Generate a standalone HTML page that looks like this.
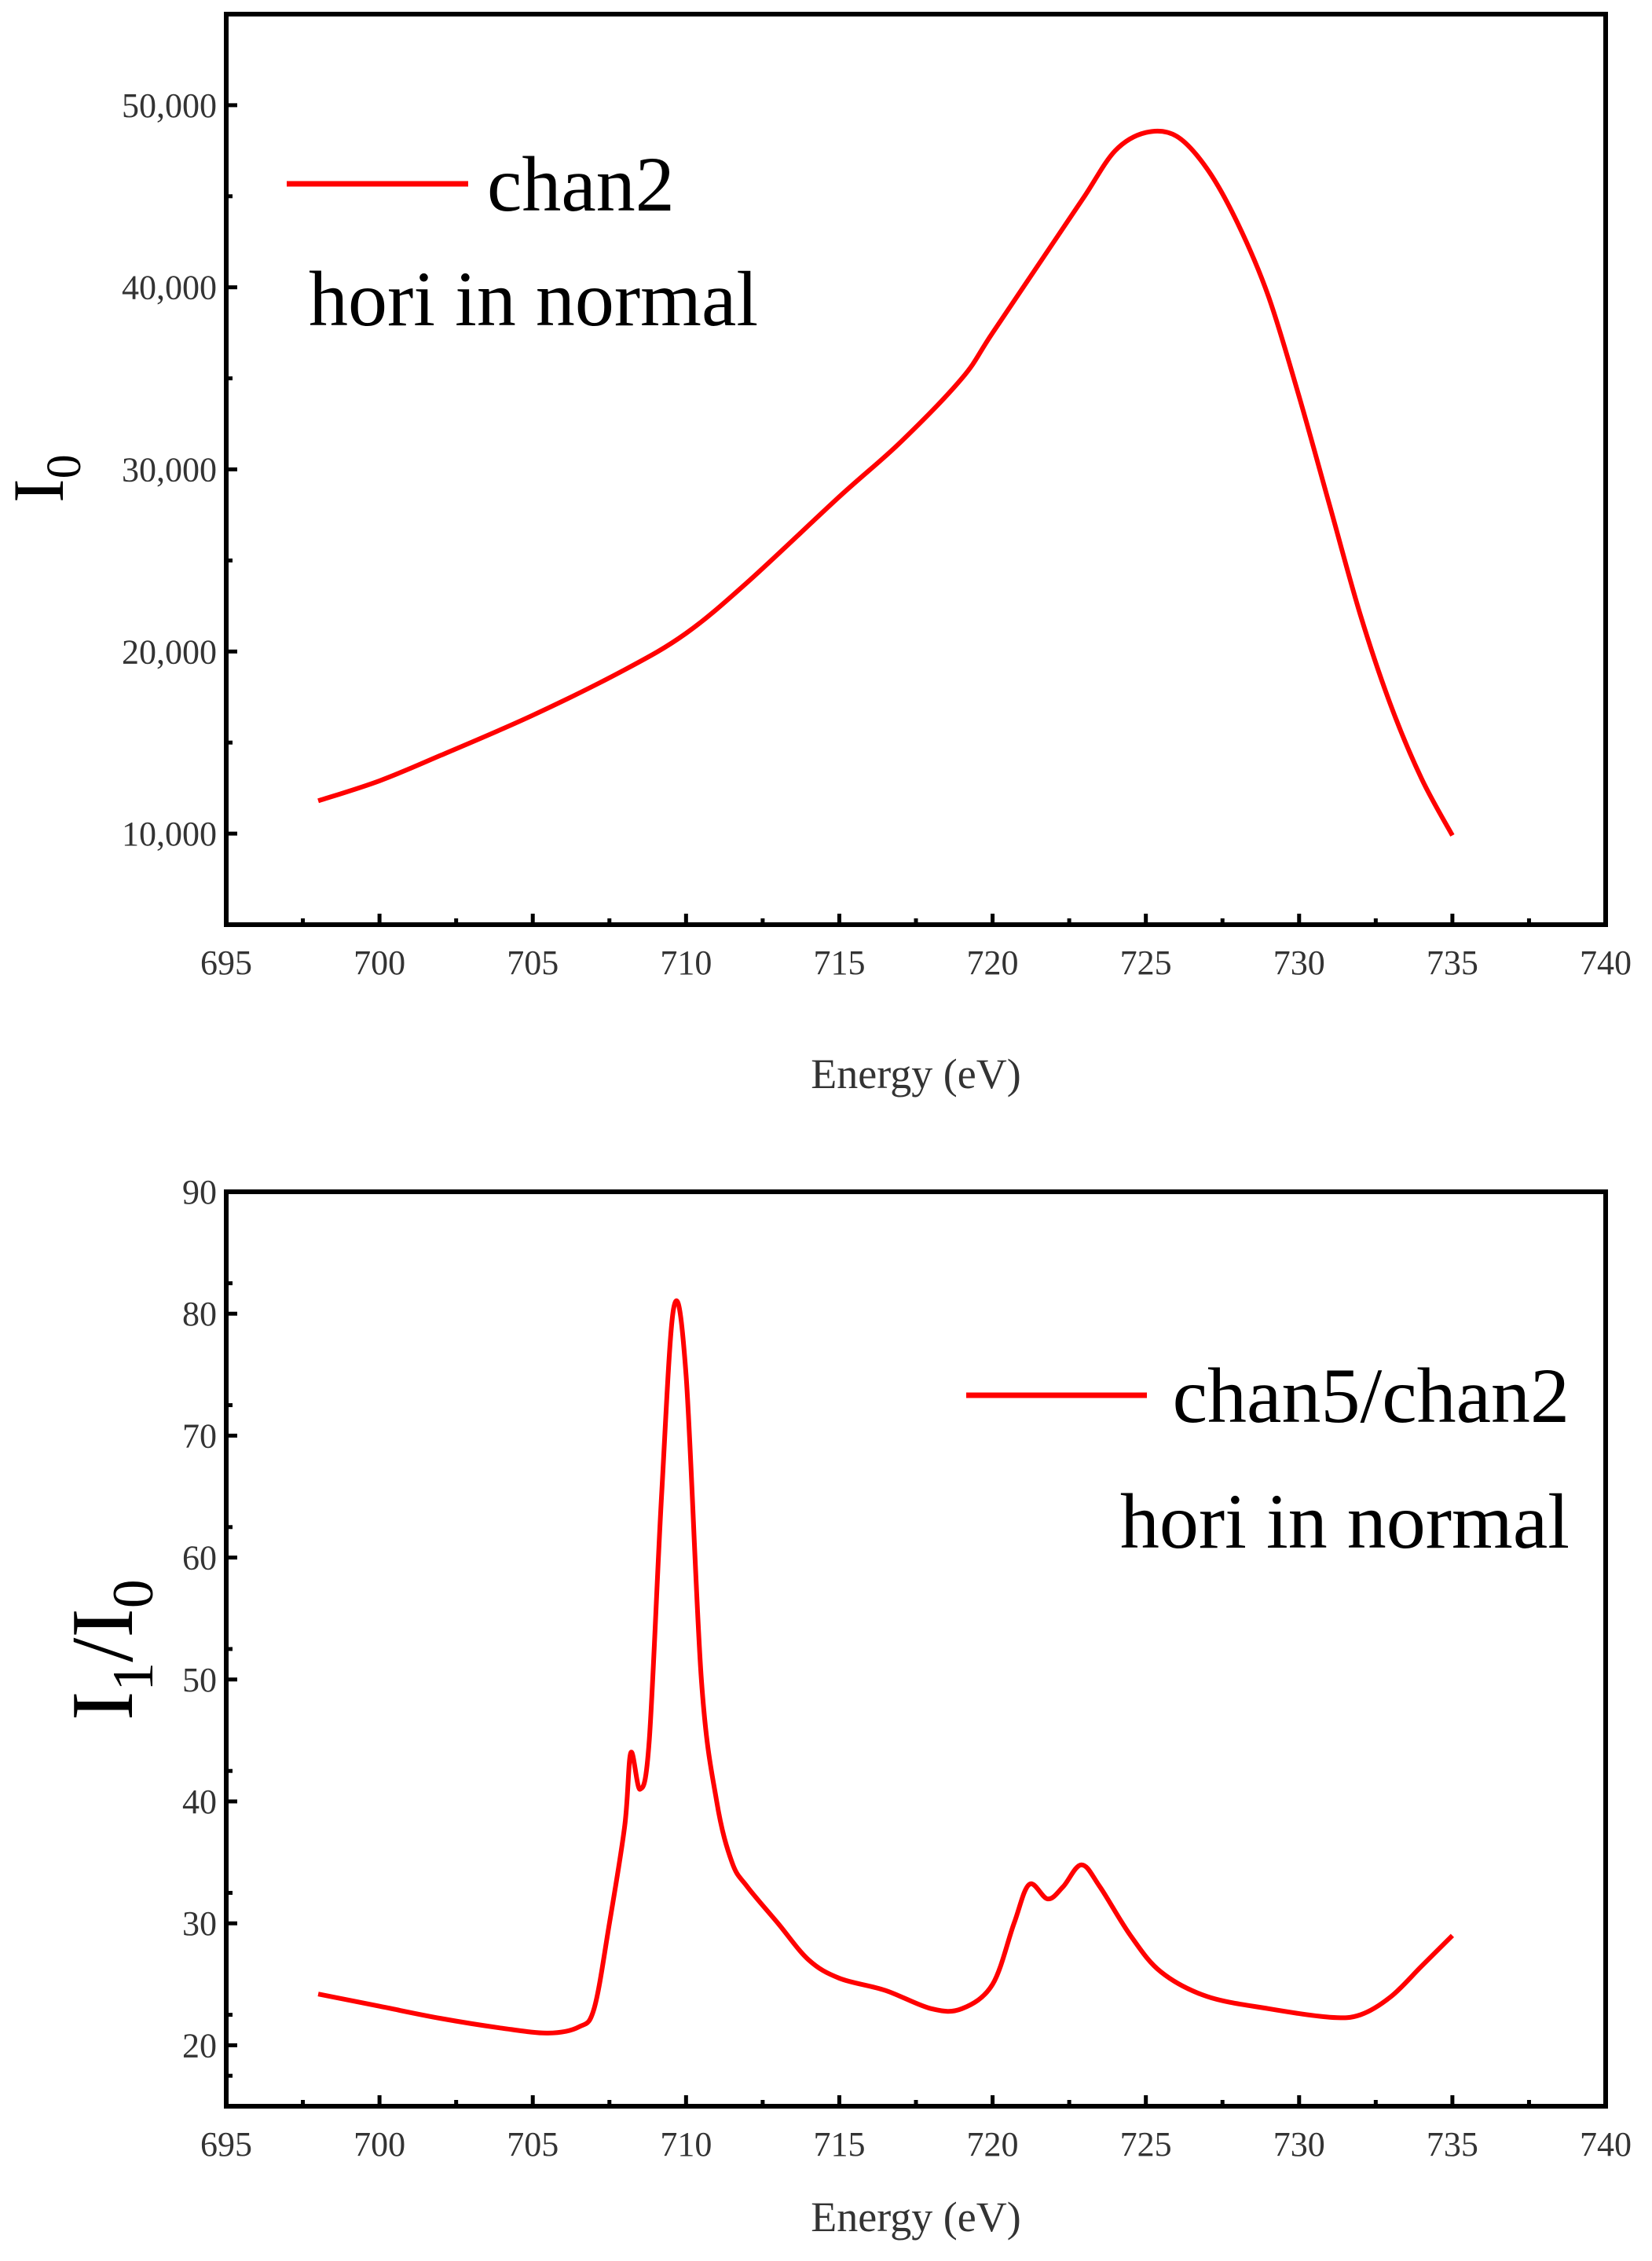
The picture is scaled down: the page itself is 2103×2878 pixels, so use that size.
<!DOCTYPE html>
<html><head><meta charset="utf-8"><style>
html,body{margin:0;padding:0;background:#fff;}
svg{display:block;font-family:"Liberation Serif",serif;}
</style></head><body>
<svg id="fig" width="2103" height="2878" viewBox="0 0 2103 2878"></svg>
<script>
const xTicks = [695,700,705,710,715,720,725,730,735,740];
const topX = [698,700,702,705,708,710,712,715,717,719,720,722,723,724,725,726,727,728,729,730,731,732,733,734,735];
const topY = [11800,12900,14300,16500,19000,21000,23800,28500,31500,35000,37500,42500,45000,47500,48500,48300,46500,43500,39500,34000,28000,22000,17000,13000,9900];
const topYTicks = [10000,20000,30000,40000,50000];
const topYTickLabels = ["10,000","20,000","30,000","40,000","50,000"];
const botX = [698,700,702,704,705.5,706.5,707,707.5,708,708.2,708.5,708.8,709.2,709.6,710,710.5,711,711.5,712,713,714,715,716.5,718,719,720,720.7,721.2,721.8,722.3,722.9,723.5,724.5,725.5,727,729,731,732,733,734,735];
const botY = [24.2,23.2,22.2,21.4,21,21.5,23,30,38,44,41,45,65,80.5,75,50,40,35,33,30,27,25.5,24.5,23,23,25,30,33.2,32,33,34.8,33,29,26,24,23,22.3,22.5,24,26.5,29];
const botYTicks = [20,30,40,50,60,70,80,90];

const NS="http://www.w3.org/2000/svg";
const svg=document.getElementById('fig');
function mk(tag,attrs,parent){const e=document.createElementNS(NS,tag);for(const k in attrs)e.setAttribute(k,attrs[k]);(parent||svg).appendChild(e);return e;}
function smooth(pts){let d=`M${pts[0][0]},${pts[0][1]}`;for(let i=0;i<pts.length-1;i++){const p0=pts[Math.max(0,i-1)],p1=pts[i],p2=pts[i+1],p3=pts[Math.min(pts.length-1,i+2)];const c1x=p1[0]+(p2[0]-p0[0])/6,c1y=p1[1]+(p2[1]-p0[1])/6,c2x=p2[0]-(p3[0]-p1[0])/6,c2y=p2[1]-(p3[1]-p1[1])/6;d+=` C${c1x},${c1y} ${c2x},${c2y} ${p2[0]},${p2[1]}`;}return d;}

function panel(cfg){
  const g=mk('g',{});
  
  
  const {L,R,T,B,ymin,ymax}=cfg;
  const sx=v=>L+(v-695)/(740-695)*(R-L);
  const sy=v=>B-(v-ymin)/(ymax-ymin)*(B-T);
  xTicks.forEach((v,i)=>{
    mk('line',{x1:sx(v),x2:sx(v),y1:B,y2:B-14,stroke:'#000','stroke-width':5},g);
    if(i<xTicks.length-1) mk('line',{x1:sx(v+2.5),x2:sx(v+2.5),y1:B,y2:B-8,stroke:'#000','stroke-width':5},g);
    const t=mk('text',{x:sx(v),y:B+63,'text-anchor':'middle','font-size':44,fill:'#333'},g);
    t.textContent=v;
    
    
  });
  cfg.yTicks.forEach((v,i)=>{
    mk('line',{x1:L,x2:L+14,y1:sy(v),y2:sy(v),stroke:'#000','stroke-width':5},g);
    const mv=v+cfg.yStep/2;
    if(mv<ymax) mk('line',{x1:L,x2:L+8,y1:sy(mv),y2:sy(mv),stroke:'#000','stroke-width':5},g);
    const lv=v-cfg.yStep/2;
    if(i==0&&lv>ymin) mk('line',{x1:L,x2:L+8,y1:sy(lv),y2:sy(lv),stroke:'#000','stroke-width':5},g);
    const t=mk('text',{x:L-12,y:sy(v)+15,'text-anchor':'end','font-size':44,fill:'#333'},g);
    t.textContent=cfg.yLabels[i];
    
    
  });
  mk('rect',{x:L,y:T,width:R-L,height:B-T,fill:'none',stroke:'#000','stroke-width':6},g);
  const pts=cfg.xs.map((x,i)=>[sx(x),sy(cfg.ys[i])]);
  const p=mk('path',{d:smooth(pts),fill:'none',stroke:'#ff0000','stroke-width':6,'stroke-linejoin':'round'},g);
  
  
  const xt=mk('text',{x:(L+R)/2,y:cfg.xTitleY,'text-anchor':'middle','font-size':54,fill:'#333'},g);
  xt.textContent='Energy (eV)';
  
  
  return g;
}

panel({name:'top-chart',L:288,R:2044,T:18,B:1177,ymin:5000,ymax:55000,yTicks:topYTicks,yLabels:topYTickLabels,yStep:10000,xs:topX,ys:topY,xTitleY:1385});
panel({name:'bottom-chart',L:288,R:2044,T:1517,B:2681,ymin:15,ymax:90,yTicks:botYTicks,yLabels:botYTicks.map(String),yStep:5,xs:botX,ys:botY,xTitleY:2840});
</script>
<svg style="position:absolute;left:0;top:0" width="2103" height="2878">
  <g font-family="Liberation Serif, serif">
    <text x="0" y="0" transform="translate(80,640) rotate(-90)" font-size="92" fill="#000">I<tspan font-size="62" dy="22">0</tspan></text>
    <text x="0" y="0" transform="translate(168,2190) rotate(-90)" font-size="112" fill="#000">I<tspan font-size="74" dy="26">1</tspan><tspan dy="-26">/I</tspan><tspan font-size="74" dy="26">0</tspan></text>
    <line x1="365" y1="234" x2="596" y2="234" stroke="#ff0000" stroke-width="7"/>
    <text x="620" y="268" font-size="100" fill="#000">chan2</text>
    <text x="393" y="414" font-size="100" fill="#000">hori in normal</text>
    <line x1="1230" y1="1776" x2="1460" y2="1776" stroke="#ff0000" stroke-width="7"/>
    <text x="1998" y="1810" text-anchor="end" font-size="100" fill="#000">chan5/chan2</text>
    <text x="1998" y="1970" text-anchor="end" font-size="100" fill="#000">hori in normal</text>
  </g>
</svg>
</body></html>
